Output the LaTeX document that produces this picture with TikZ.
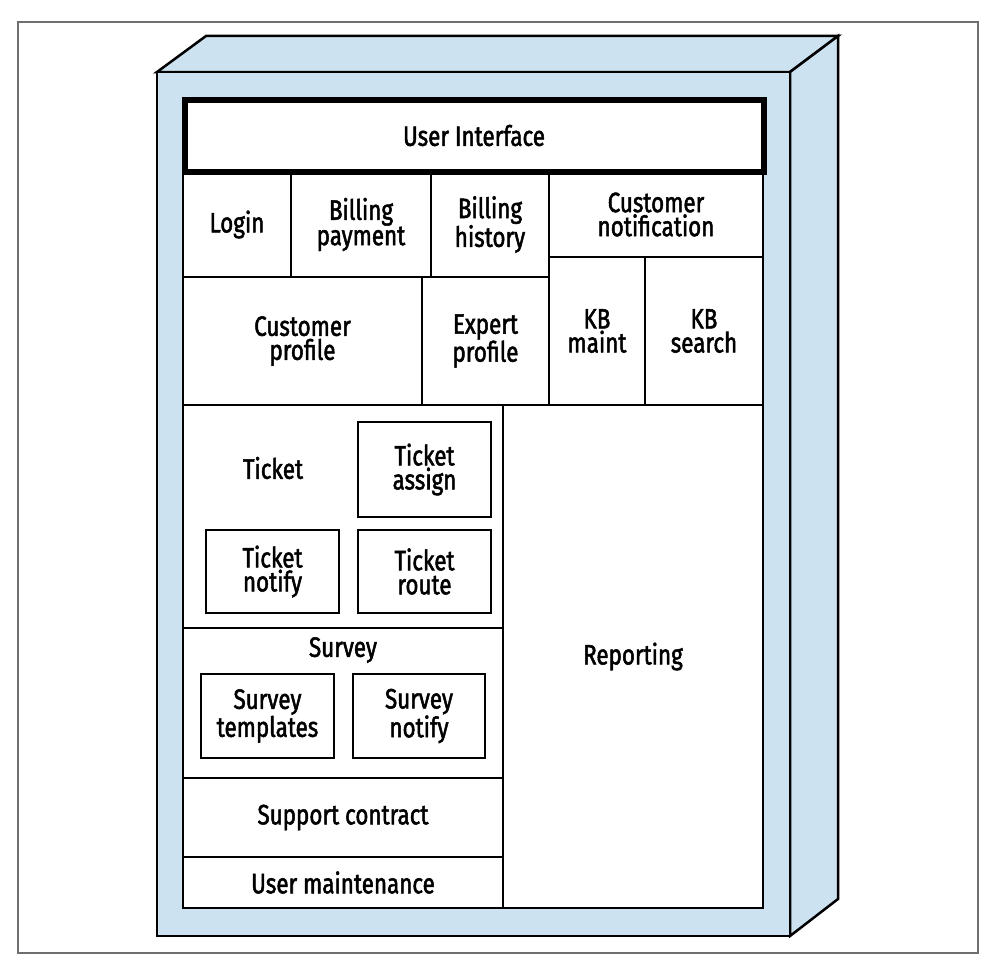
\documentclass[tikz,border=0pt]{standalone}
\usepackage{fontspec}
\setmainfont{Fira Sans}[FakeStretch=0.8, FakeBold=1.8]
\definecolor{boxblue}{RGB}{204,226,240}
\definecolor{framegray}{RGB}{110,110,110}
\begin{document}
\begin{tikzpicture}[x=1pt,y=-1pt,
  line join=miter,
  cell/.style={draw=black, line width=2.5pt, fill=white, inner sep=0pt, align=center,
    font=\fontsize{28}{24}\selectfont},
  txt/.style={inner sep=0pt, align=center, font=\fontsize{28}{24}\selectfont},
  edge3d/.style={draw=black, line width=2.5pt, fill=boxblue}]
\useasboundingbox (0,0) rectangle (990,966);
% outer frame
\draw[framegray, line width=1.3pt] (18,22) rectangle (978,953);
% 3D box
\coordinate (fa) at (157,72);
\coordinate (fb) at (790,72);
\coordinate (fc) at (790,936);
\coordinate (fd) at (157,936);
\coordinate (ba) at (206,36);
\coordinate (bb) at (838,36);
\coordinate (bc) at (838,899);
\path[edge3d] (fa) -- (ba) -- (bb) -- (fb) -- cycle;
\path[edge3d] (fb) -- (bb) -- (bc) -- (fc) -- cycle;
\path[edge3d] (fa) rectangle (fc);
% content cells
\node[cell, minimum width=108, minimum height=105] (login) at (237,224.5) {Login};
\node[cell, minimum width=140, minimum height=105] (bpay) at (361,224.5) {Billing\\payment};
\node[cell, minimum width=118, minimum height=105] (bhist) at (490,224.5) {Billing\\history};
\node[cell, minimum width=214, minimum height=85] (cnotif) at (656,214.5) {Customer\\notification};
\node[cell, minimum width=239, minimum height=128] (cprof) at (302.5,341) {Customer\\profile};
\node[cell, minimum width=127, minimum height=128] (eprof) at (485.5,341) {Expert\\profile};
\node[cell, minimum width=96, minimum height=148] (kbm) at (597,331) {KB\\maint};
\node[cell, minimum width=118, minimum height=148] (kbs) at (704,331) {KB\\search};
\node[cell, minimum width=260, minimum height=503] (rep) at (633,656.5) {Reporting};
\node[cell, minimum width=320, minimum height=223] (ticket) at (343,516.5) {};
\node[txt] (ticketlbl) at (273,468) {Ticket};
\node[cell, minimum width=133, minimum height=95] (tassign) at (424.5,469.5) {Ticket\\assign};
\node[cell, minimum width=133, minimum height=83] (tnotify) at (272.5,571.5) {Ticket\\notify};
\node[cell, minimum width=133, minimum height=83] (troute) at (424.5,571.5) {Ticket\\route};
\node[cell, minimum width=320, minimum height=150] (survey) at (343,703) {};
\node[txt] (surveylbl) at (343,650) {Survey};
\node[cell, minimum width=133, minimum height=84] (stempl) at (267.5,716) {Survey\\templates};
\node[cell, minimum width=132, minimum height=84] (snotify) at (419,716) {Survey\\notify};
\node[cell, minimum width=320, minimum height=79] (support) at (343,817.5) {Support contract};
\node[cell, minimum width=320, minimum height=51] (umaint) at (343,882.5) {User maintenance};
% user interface
\node[cell, line width=6pt, minimum width=579, minimum height=72] (ui) at (474,135.5) {User Interface};
\end{tikzpicture}
\end{document}
